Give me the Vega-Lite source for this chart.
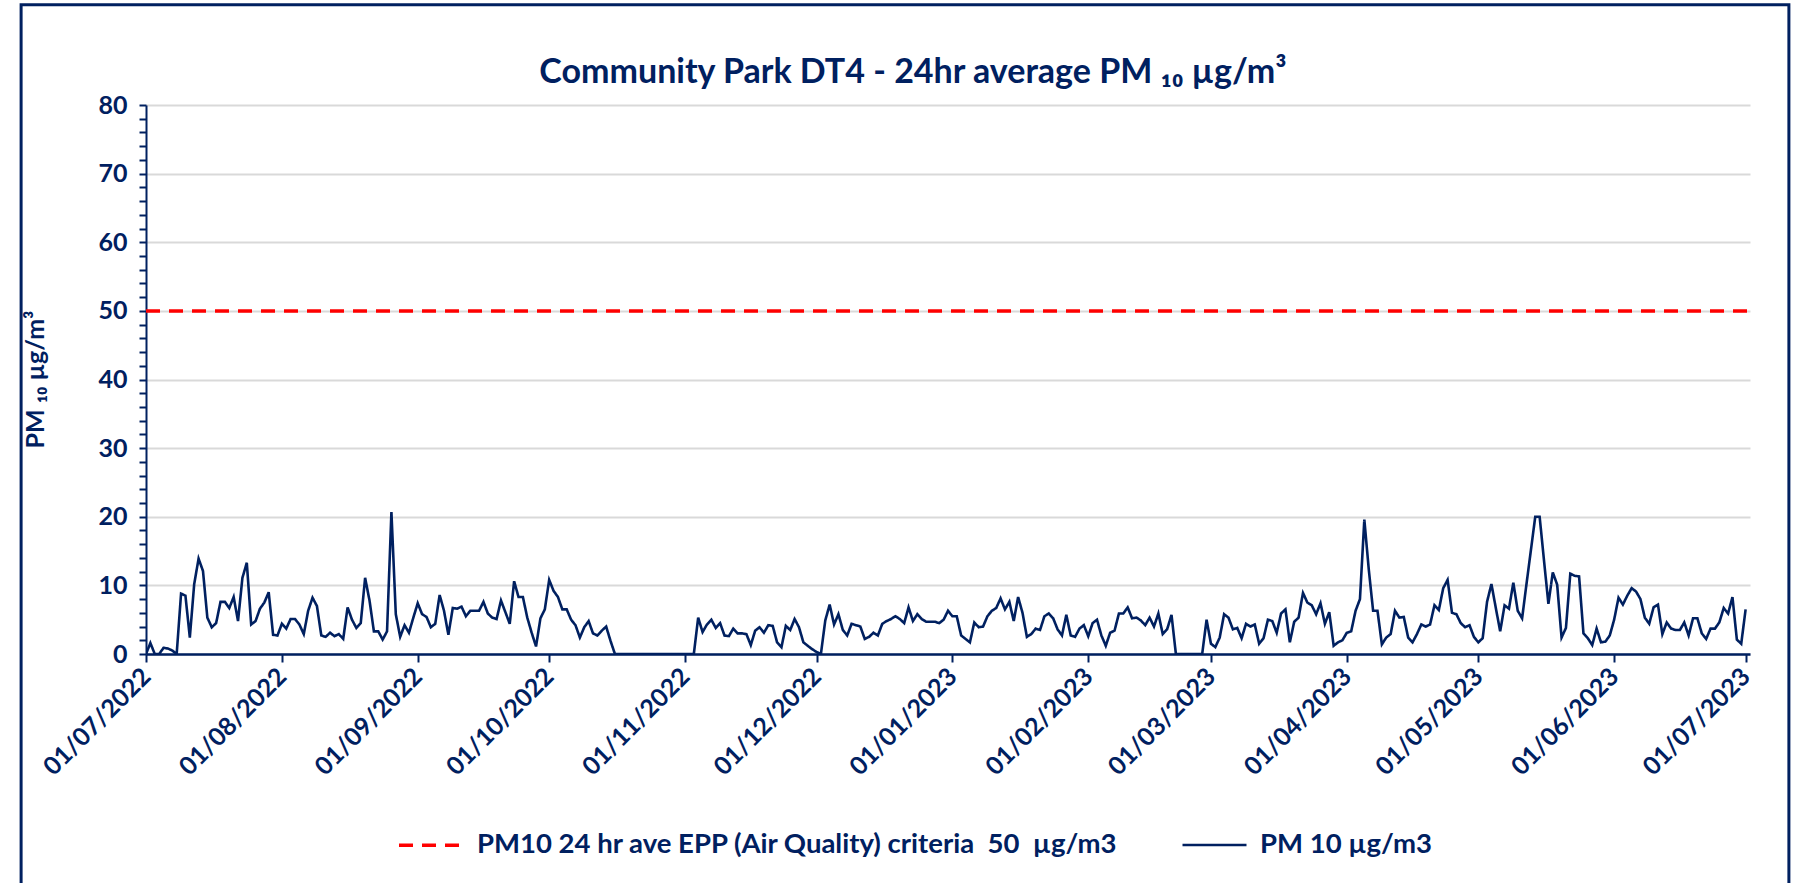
{
  "$schema": "https://vega.github.io/schema/vega-lite/v6.json",
  "width": 1604,
  "height": 549,
  "autosize": {"type": "none"},
  "padding": {"left": 146, "top": 105, "right": 56, "bottom": 229},
  "background": "white",
  "config": {"view": {"stroke": null}, "font": "Lato"},
  "title": {
    "text": "Community Park DT4 - 24hr average PM ₁₀ µg/m³",
    "font": "Lato", "fontSize": 34, "fontWeight": "bold", "color": "#002060",
    "anchor": "middle", "frame": "group", "baseline": "bottom", "offset": -121, "dx": -35
  },
  "resolve": {"axis": {"x": "independent", "y": "independent"}},
  "datasets": {
    "pm": [
      {"date":"2022-07-01","pm":50,"series":"PM10 24 hr ave EPP (Air Quality) criteria\u00a0 50\u00a0 µg/m3"},
      {"date":"2023-07-02","pm":50,"series":"PM10 24 hr ave EPP (Air Quality) criteria\u00a0 50\u00a0 µg/m3"},
      {"date":"2022-07-01","pm":0,"series":"PM 10 µg/m3"},
      {"date":"2022-07-02","pm":1.6,"series":"PM 10 µg/m3"},
      {"date":"2022-07-03","pm":0,"series":"PM 10 µg/m3"},
      {"date":"2022-07-04","pm":0,"series":"PM 10 µg/m3"},
      {"date":"2022-07-05","pm":0.9,"series":"PM 10 µg/m3"},
      {"date":"2022-07-06","pm":0.8,"series":"PM 10 µg/m3"},
      {"date":"2022-07-07","pm":0.5,"series":"PM 10 µg/m3"},
      {"date":"2022-07-08","pm":0,"series":"PM 10 µg/m3"},
      {"date":"2022-07-09","pm":8.8,"series":"PM 10 µg/m3"},
      {"date":"2022-07-10","pm":8.5,"series":"PM 10 µg/m3"},
      {"date":"2022-07-11","pm":2.4,"series":"PM 10 µg/m3"},
      {"date":"2022-07-12","pm":10.2,"series":"PM 10 µg/m3"},
      {"date":"2022-07-13","pm":13.9,"series":"PM 10 µg/m3"},
      {"date":"2022-07-14","pm":12.1,"series":"PM 10 µg/m3"},
      {"date":"2022-07-15","pm":5.3,"series":"PM 10 µg/m3"},
      {"date":"2022-07-16","pm":3.9,"series":"PM 10 µg/m3"},
      {"date":"2022-07-17","pm":4.5,"series":"PM 10 µg/m3"},
      {"date":"2022-07-18","pm":7.6,"series":"PM 10 µg/m3"},
      {"date":"2022-07-19","pm":7.6,"series":"PM 10 µg/m3"},
      {"date":"2022-07-20","pm":6.7,"series":"PM 10 µg/m3"},
      {"date":"2022-07-21","pm":8.3,"series":"PM 10 µg/m3"},
      {"date":"2022-07-22","pm":4.8,"series":"PM 10 µg/m3"},
      {"date":"2022-07-23","pm":11.1,"series":"PM 10 µg/m3"},
      {"date":"2022-07-24","pm":13.3,"series":"PM 10 µg/m3"},
      {"date":"2022-07-25","pm":4.3,"series":"PM 10 µg/m3"},
      {"date":"2022-07-26","pm":4.8,"series":"PM 10 µg/m3"},
      {"date":"2022-07-27","pm":6.6,"series":"PM 10 µg/m3"},
      {"date":"2022-07-28","pm":7.5,"series":"PM 10 µg/m3"},
      {"date":"2022-07-29","pm":9.0,"series":"PM 10 µg/m3"},
      {"date":"2022-07-30","pm":2.8,"series":"PM 10 µg/m3"},
      {"date":"2022-07-31","pm":2.7,"series":"PM 10 µg/m3"},
      {"date":"2022-08-01","pm":4.4,"series":"PM 10 µg/m3"},
      {"date":"2022-08-02","pm":3.7,"series":"PM 10 µg/m3"},
      {"date":"2022-08-03","pm":5.1,"series":"PM 10 µg/m3"},
      {"date":"2022-08-04","pm":5.1,"series":"PM 10 µg/m3"},
      {"date":"2022-08-05","pm":4.3,"series":"PM 10 µg/m3"},
      {"date":"2022-08-06","pm":2.9,"series":"PM 10 µg/m3"},
      {"date":"2022-08-07","pm":6.3,"series":"PM 10 µg/m3"},
      {"date":"2022-08-08","pm":8.2,"series":"PM 10 µg/m3"},
      {"date":"2022-08-09","pm":7.0,"series":"PM 10 µg/m3"},
      {"date":"2022-08-10","pm":2.7,"series":"PM 10 µg/m3"},
      {"date":"2022-08-11","pm":2.5,"series":"PM 10 µg/m3"},
      {"date":"2022-08-12","pm":3.1,"series":"PM 10 µg/m3"},
      {"date":"2022-08-13","pm":2.6,"series":"PM 10 µg/m3"},
      {"date":"2022-08-14","pm":2.9,"series":"PM 10 µg/m3"},
      {"date":"2022-08-15","pm":2.2,"series":"PM 10 µg/m3"},
      {"date":"2022-08-16","pm":6.8,"series":"PM 10 µg/m3"},
      {"date":"2022-08-17","pm":5.0,"series":"PM 10 µg/m3"},
      {"date":"2022-08-18","pm":3.8,"series":"PM 10 µg/m3"},
      {"date":"2022-08-19","pm":4.5,"series":"PM 10 µg/m3"},
      {"date":"2022-08-20","pm":11.1,"series":"PM 10 µg/m3"},
      {"date":"2022-08-21","pm":7.8,"series":"PM 10 µg/m3"},
      {"date":"2022-08-22","pm":3.3,"series":"PM 10 µg/m3"},
      {"date":"2022-08-23","pm":3.3,"series":"PM 10 µg/m3"},
      {"date":"2022-08-24","pm":2.1,"series":"PM 10 µg/m3"},
      {"date":"2022-08-25","pm":3.3,"series":"PM 10 µg/m3"},
      {"date":"2022-08-26","pm":20.7,"series":"PM 10 µg/m3"},
      {"date":"2022-08-27","pm":5.8,"series":"PM 10 µg/m3"},
      {"date":"2022-08-28","pm":2.5,"series":"PM 10 µg/m3"},
      {"date":"2022-08-29","pm":4.2,"series":"PM 10 µg/m3"},
      {"date":"2022-08-30","pm":3.1,"series":"PM 10 µg/m3"},
      {"date":"2022-08-31","pm":5.3,"series":"PM 10 µg/m3"},
      {"date":"2022-09-01","pm":7.4,"series":"PM 10 µg/m3"},
      {"date":"2022-09-02","pm":5.8,"series":"PM 10 µg/m3"},
      {"date":"2022-09-03","pm":5.4,"series":"PM 10 µg/m3"},
      {"date":"2022-09-04","pm":3.9,"series":"PM 10 µg/m3"},
      {"date":"2022-09-05","pm":4.4,"series":"PM 10 µg/m3"},
      {"date":"2022-09-06","pm":8.6,"series":"PM 10 µg/m3"},
      {"date":"2022-09-07","pm":6.3,"series":"PM 10 µg/m3"},
      {"date":"2022-09-08","pm":2.8,"series":"PM 10 µg/m3"},
      {"date":"2022-09-09","pm":6.7,"series":"PM 10 µg/m3"},
      {"date":"2022-09-10","pm":6.6,"series":"PM 10 µg/m3"},
      {"date":"2022-09-11","pm":6.9,"series":"PM 10 µg/m3"},
      {"date":"2022-09-12","pm":5.5,"series":"PM 10 µg/m3"},
      {"date":"2022-09-13","pm":6.3,"series":"PM 10 µg/m3"},
      {"date":"2022-09-14","pm":6.3,"series":"PM 10 µg/m3"},
      {"date":"2022-09-15","pm":6.3,"series":"PM 10 µg/m3"},
      {"date":"2022-09-16","pm":7.6,"series":"PM 10 µg/m3"},
      {"date":"2022-09-17","pm":5.9,"series":"PM 10 µg/m3"},
      {"date":"2022-09-18","pm":5.3,"series":"PM 10 µg/m3"},
      {"date":"2022-09-19","pm":5.1,"series":"PM 10 µg/m3"},
      {"date":"2022-09-20","pm":7.8,"series":"PM 10 µg/m3"},
      {"date":"2022-09-21","pm":6.1,"series":"PM 10 µg/m3"},
      {"date":"2022-09-22","pm":4.4,"series":"PM 10 µg/m3"},
      {"date":"2022-09-23","pm":10.6,"series":"PM 10 µg/m3"},
      {"date":"2022-09-24","pm":8.3,"series":"PM 10 µg/m3"},
      {"date":"2022-09-25","pm":8.3,"series":"PM 10 µg/m3"},
      {"date":"2022-09-26","pm":5.3,"series":"PM 10 µg/m3"},
      {"date":"2022-09-27","pm":3.1,"series":"PM 10 µg/m3"},
      {"date":"2022-09-28","pm":1.1,"series":"PM 10 µg/m3"},
      {"date":"2022-09-29","pm":5.2,"series":"PM 10 µg/m3"},
      {"date":"2022-09-30","pm":6.5,"series":"PM 10 µg/m3"},
      {"date":"2022-10-01","pm":10.8,"series":"PM 10 µg/m3"},
      {"date":"2022-10-02","pm":9.2,"series":"PM 10 µg/m3"},
      {"date":"2022-10-03","pm":8.3,"series":"PM 10 µg/m3"},
      {"date":"2022-10-04","pm":6.5,"series":"PM 10 µg/m3"},
      {"date":"2022-10-05","pm":6.5,"series":"PM 10 µg/m3"},
      {"date":"2022-10-06","pm":5.0,"series":"PM 10 µg/m3"},
      {"date":"2022-10-07","pm":4.2,"series":"PM 10 µg/m3"},
      {"date":"2022-10-08","pm":2.4,"series":"PM 10 µg/m3"},
      {"date":"2022-10-09","pm":3.9,"series":"PM 10 µg/m3"},
      {"date":"2022-10-10","pm":4.8,"series":"PM 10 µg/m3"},
      {"date":"2022-10-11","pm":3.0,"series":"PM 10 µg/m3"},
      {"date":"2022-10-12","pm":2.7,"series":"PM 10 µg/m3"},
      {"date":"2022-10-13","pm":3.4,"series":"PM 10 µg/m3"},
      {"date":"2022-10-14","pm":4.0,"series":"PM 10 µg/m3"},
      {"date":"2022-10-15","pm":1.9,"series":"PM 10 µg/m3"},
      {"date":"2022-10-16","pm":0,"series":"PM 10 µg/m3"},
      {"date":"2022-11-03","pm":0,"series":"PM 10 µg/m3"},
      {"date":"2022-11-04","pm":5.3,"series":"PM 10 µg/m3"},
      {"date":"2022-11-05","pm":3.2,"series":"PM 10 µg/m3"},
      {"date":"2022-11-06","pm":4.3,"series":"PM 10 µg/m3"},
      {"date":"2022-11-07","pm":5.0,"series":"PM 10 µg/m3"},
      {"date":"2022-11-08","pm":3.8,"series":"PM 10 µg/m3"},
      {"date":"2022-11-09","pm":4.5,"series":"PM 10 µg/m3"},
      {"date":"2022-11-10","pm":2.7,"series":"PM 10 µg/m3"},
      {"date":"2022-11-11","pm":2.6,"series":"PM 10 µg/m3"},
      {"date":"2022-11-12","pm":3.7,"series":"PM 10 µg/m3"},
      {"date":"2022-11-13","pm":3.0,"series":"PM 10 µg/m3"},
      {"date":"2022-11-14","pm":3.0,"series":"PM 10 µg/m3"},
      {"date":"2022-11-15","pm":2.9,"series":"PM 10 µg/m3"},
      {"date":"2022-11-16","pm":1.3,"series":"PM 10 µg/m3"},
      {"date":"2022-11-17","pm":3.4,"series":"PM 10 µg/m3"},
      {"date":"2022-11-18","pm":3.9,"series":"PM 10 µg/m3"},
      {"date":"2022-11-19","pm":3.1,"series":"PM 10 µg/m3"},
      {"date":"2022-11-20","pm":4.2,"series":"PM 10 µg/m3"},
      {"date":"2022-11-21","pm":4.1,"series":"PM 10 µg/m3"},
      {"date":"2022-11-22","pm":1.7,"series":"PM 10 µg/m3"},
      {"date":"2022-11-23","pm":1.0,"series":"PM 10 µg/m3"},
      {"date":"2022-11-24","pm":4.1,"series":"PM 10 µg/m3"},
      {"date":"2022-11-25","pm":3.5,"series":"PM 10 µg/m3"},
      {"date":"2022-11-26","pm":5.1,"series":"PM 10 µg/m3"},
      {"date":"2022-11-27","pm":3.9,"series":"PM 10 µg/m3"},
      {"date":"2022-11-28","pm":1.7,"series":"PM 10 µg/m3"},
      {"date":"2022-11-29","pm":1.2,"series":"PM 10 µg/m3"},
      {"date":"2022-11-30","pm":0.7,"series":"PM 10 µg/m3"},
      {"date":"2022-12-01","pm":0.3,"series":"PM 10 µg/m3"},
      {"date":"2022-12-02","pm":0,"series":"PM 10 µg/m3"},
      {"date":"2022-12-03","pm":4.9,"series":"PM 10 µg/m3"},
      {"date":"2022-12-04","pm":7.2,"series":"PM 10 µg/m3"},
      {"date":"2022-12-05","pm":4.3,"series":"PM 10 µg/m3"},
      {"date":"2022-12-06","pm":5.8,"series":"PM 10 µg/m3"},
      {"date":"2022-12-07","pm":3.5,"series":"PM 10 µg/m3"},
      {"date":"2022-12-08","pm":2.7,"series":"PM 10 µg/m3"},
      {"date":"2022-12-09","pm":4.4,"series":"PM 10 µg/m3"},
      {"date":"2022-12-10","pm":4.2,"series":"PM 10 µg/m3"},
      {"date":"2022-12-11","pm":4.0,"series":"PM 10 µg/m3"},
      {"date":"2022-12-12","pm":2.2,"series":"PM 10 µg/m3"},
      {"date":"2022-12-13","pm":2.5,"series":"PM 10 µg/m3"},
      {"date":"2022-12-14","pm":3.1,"series":"PM 10 µg/m3"},
      {"date":"2022-12-15","pm":2.7,"series":"PM 10 µg/m3"},
      {"date":"2022-12-16","pm":4.4,"series":"PM 10 µg/m3"},
      {"date":"2022-12-17","pm":4.8,"series":"PM 10 µg/m3"},
      {"date":"2022-12-18","pm":5.1,"series":"PM 10 µg/m3"},
      {"date":"2022-12-19","pm":5.5,"series":"PM 10 µg/m3"},
      {"date":"2022-12-20","pm":5.1,"series":"PM 10 µg/m3"},
      {"date":"2022-12-21","pm":4.5,"series":"PM 10 µg/m3"},
      {"date":"2022-12-22","pm":6.8,"series":"PM 10 µg/m3"},
      {"date":"2022-12-23","pm":4.8,"series":"PM 10 µg/m3"},
      {"date":"2022-12-24","pm":5.8,"series":"PM 10 µg/m3"},
      {"date":"2022-12-25","pm":5.1,"series":"PM 10 µg/m3"},
      {"date":"2022-12-26","pm":4.7,"series":"PM 10 µg/m3"},
      {"date":"2022-12-27","pm":4.7,"series":"PM 10 µg/m3"},
      {"date":"2022-12-28","pm":4.7,"series":"PM 10 µg/m3"},
      {"date":"2022-12-29","pm":4.5,"series":"PM 10 µg/m3"},
      {"date":"2022-12-30","pm":5.0,"series":"PM 10 µg/m3"},
      {"date":"2022-12-31","pm":6.3,"series":"PM 10 µg/m3"},
      {"date":"2023-01-01","pm":5.5,"series":"PM 10 µg/m3"},
      {"date":"2023-01-02","pm":5.5,"series":"PM 10 µg/m3"},
      {"date":"2023-01-03","pm":2.7,"series":"PM 10 µg/m3"},
      {"date":"2023-01-04","pm":2.2,"series":"PM 10 µg/m3"},
      {"date":"2023-01-05","pm":1.7,"series":"PM 10 µg/m3"},
      {"date":"2023-01-06","pm":4.6,"series":"PM 10 µg/m3"},
      {"date":"2023-01-07","pm":3.9,"series":"PM 10 µg/m3"},
      {"date":"2023-01-08","pm":4.0,"series":"PM 10 µg/m3"},
      {"date":"2023-01-09","pm":5.5,"series":"PM 10 µg/m3"},
      {"date":"2023-01-10","pm":6.3,"series":"PM 10 µg/m3"},
      {"date":"2023-01-11","pm":6.7,"series":"PM 10 µg/m3"},
      {"date":"2023-01-12","pm":8.1,"series":"PM 10 µg/m3"},
      {"date":"2023-01-13","pm":6.5,"series":"PM 10 µg/m3"},
      {"date":"2023-01-14","pm":7.6,"series":"PM 10 µg/m3"},
      {"date":"2023-01-15","pm":4.8,"series":"PM 10 µg/m3"},
      {"date":"2023-01-16","pm":8.3,"series":"PM 10 µg/m3"},
      {"date":"2023-01-17","pm":6.0,"series":"PM 10 µg/m3"},
      {"date":"2023-01-18","pm":2.5,"series":"PM 10 µg/m3"},
      {"date":"2023-01-19","pm":2.9,"series":"PM 10 µg/m3"},
      {"date":"2023-01-20","pm":3.7,"series":"PM 10 µg/m3"},
      {"date":"2023-01-21","pm":3.5,"series":"PM 10 µg/m3"},
      {"date":"2023-01-22","pm":5.5,"series":"PM 10 µg/m3"},
      {"date":"2023-01-23","pm":5.9,"series":"PM 10 µg/m3"},
      {"date":"2023-01-24","pm":5.2,"series":"PM 10 µg/m3"},
      {"date":"2023-01-25","pm":3.6,"series":"PM 10 µg/m3"},
      {"date":"2023-01-26","pm":2.7,"series":"PM 10 µg/m3"},
      {"date":"2023-01-27","pm":5.7,"series":"PM 10 µg/m3"},
      {"date":"2023-01-28","pm":2.7,"series":"PM 10 µg/m3"},
      {"date":"2023-01-29","pm":2.5,"series":"PM 10 µg/m3"},
      {"date":"2023-01-30","pm":3.7,"series":"PM 10 µg/m3"},
      {"date":"2023-01-31","pm":4.2,"series":"PM 10 µg/m3"},
      {"date":"2023-02-01","pm":2.6,"series":"PM 10 µg/m3"},
      {"date":"2023-02-02","pm":4.5,"series":"PM 10 µg/m3"},
      {"date":"2023-02-03","pm":5.0,"series":"PM 10 µg/m3"},
      {"date":"2023-02-04","pm":2.7,"series":"PM 10 µg/m3"},
      {"date":"2023-02-05","pm":1.2,"series":"PM 10 µg/m3"},
      {"date":"2023-02-06","pm":3.1,"series":"PM 10 µg/m3"},
      {"date":"2023-02-07","pm":3.4,"series":"PM 10 µg/m3"},
      {"date":"2023-02-08","pm":5.9,"series":"PM 10 µg/m3"},
      {"date":"2023-02-09","pm":5.9,"series":"PM 10 µg/m3"},
      {"date":"2023-02-10","pm":6.8,"series":"PM 10 µg/m3"},
      {"date":"2023-02-11","pm":5.2,"series":"PM 10 µg/m3"},
      {"date":"2023-02-12","pm":5.3,"series":"PM 10 µg/m3"},
      {"date":"2023-02-13","pm":4.9,"series":"PM 10 µg/m3"},
      {"date":"2023-02-14","pm":4.2,"series":"PM 10 µg/m3"},
      {"date":"2023-02-15","pm":5.3,"series":"PM 10 µg/m3"},
      {"date":"2023-02-16","pm":4.0,"series":"PM 10 µg/m3"},
      {"date":"2023-02-17","pm":5.9,"series":"PM 10 µg/m3"},
      {"date":"2023-02-18","pm":2.9,"series":"PM 10 µg/m3"},
      {"date":"2023-02-19","pm":3.6,"series":"PM 10 µg/m3"},
      {"date":"2023-02-20","pm":5.7,"series":"PM 10 µg/m3"},
      {"date":"2023-02-21","pm":0,"series":"PM 10 µg/m3"},
      {"date":"2023-02-27","pm":0,"series":"PM 10 µg/m3"},
      {"date":"2023-02-28","pm":5.0,"series":"PM 10 µg/m3"},
      {"date":"2023-03-01","pm":1.5,"series":"PM 10 µg/m3"},
      {"date":"2023-03-02","pm":1.0,"series":"PM 10 µg/m3"},
      {"date":"2023-03-03","pm":2.4,"series":"PM 10 µg/m3"},
      {"date":"2023-03-04","pm":5.8,"series":"PM 10 µg/m3"},
      {"date":"2023-03-05","pm":5.3,"series":"PM 10 µg/m3"},
      {"date":"2023-03-06","pm":3.6,"series":"PM 10 µg/m3"},
      {"date":"2023-03-07","pm":3.8,"series":"PM 10 µg/m3"},
      {"date":"2023-03-08","pm":2.3,"series":"PM 10 µg/m3"},
      {"date":"2023-03-09","pm":4.4,"series":"PM 10 µg/m3"},
      {"date":"2023-03-10","pm":4.0,"series":"PM 10 µg/m3"},
      {"date":"2023-03-11","pm":4.3,"series":"PM 10 µg/m3"},
      {"date":"2023-03-12","pm":1.5,"series":"PM 10 µg/m3"},
      {"date":"2023-03-13","pm":2.3,"series":"PM 10 µg/m3"},
      {"date":"2023-03-14","pm":5.0,"series":"PM 10 µg/m3"},
      {"date":"2023-03-15","pm":4.8,"series":"PM 10 µg/m3"},
      {"date":"2023-03-16","pm":3.1,"series":"PM 10 µg/m3"},
      {"date":"2023-03-17","pm":5.9,"series":"PM 10 µg/m3"},
      {"date":"2023-03-18","pm":6.5,"series":"PM 10 µg/m3"},
      {"date":"2023-03-19","pm":1.7,"series":"PM 10 µg/m3"},
      {"date":"2023-03-20","pm":4.7,"series":"PM 10 µg/m3"},
      {"date":"2023-03-21","pm":5.3,"series":"PM 10 µg/m3"},
      {"date":"2023-03-22","pm":8.9,"series":"PM 10 µg/m3"},
      {"date":"2023-03-23","pm":7.5,"series":"PM 10 µg/m3"},
      {"date":"2023-03-24","pm":7.1,"series":"PM 10 µg/m3"},
      {"date":"2023-03-25","pm":5.8,"series":"PM 10 µg/m3"},
      {"date":"2023-03-26","pm":7.4,"series":"PM 10 µg/m3"},
      {"date":"2023-03-27","pm":4.4,"series":"PM 10 µg/m3"},
      {"date":"2023-03-28","pm":6.1,"series":"PM 10 µg/m3"},
      {"date":"2023-03-29","pm":1.2,"series":"PM 10 µg/m3"},
      {"date":"2023-03-30","pm":1.7,"series":"PM 10 µg/m3"},
      {"date":"2023-03-31","pm":2.0,"series":"PM 10 µg/m3"},
      {"date":"2023-04-01","pm":3.1,"series":"PM 10 µg/m3"},
      {"date":"2023-04-02","pm":3.3,"series":"PM 10 µg/m3"},
      {"date":"2023-04-03","pm":6.3,"series":"PM 10 µg/m3"},
      {"date":"2023-04-04","pm":8.0,"series":"PM 10 µg/m3"},
      {"date":"2023-04-05","pm":19.6,"series":"PM 10 µg/m3"},
      {"date":"2023-04-06","pm":12.4,"series":"PM 10 µg/m3"},
      {"date":"2023-04-07","pm":6.3,"series":"PM 10 µg/m3"},
      {"date":"2023-04-08","pm":6.3,"series":"PM 10 µg/m3"},
      {"date":"2023-04-09","pm":1.4,"series":"PM 10 µg/m3"},
      {"date":"2023-04-10","pm":2.4,"series":"PM 10 µg/m3"},
      {"date":"2023-04-11","pm":2.9,"series":"PM 10 µg/m3"},
      {"date":"2023-04-12","pm":6.3,"series":"PM 10 µg/m3"},
      {"date":"2023-04-13","pm":5.3,"series":"PM 10 µg/m3"},
      {"date":"2023-04-14","pm":5.4,"series":"PM 10 µg/m3"},
      {"date":"2023-04-15","pm":2.4,"series":"PM 10 µg/m3"},
      {"date":"2023-04-16","pm":1.7,"series":"PM 10 µg/m3"},
      {"date":"2023-04-17","pm":2.9,"series":"PM 10 µg/m3"},
      {"date":"2023-04-18","pm":4.3,"series":"PM 10 µg/m3"},
      {"date":"2023-04-19","pm":4.0,"series":"PM 10 µg/m3"},
      {"date":"2023-04-20","pm":4.3,"series":"PM 10 µg/m3"},
      {"date":"2023-04-21","pm":7.1,"series":"PM 10 µg/m3"},
      {"date":"2023-04-22","pm":6.4,"series":"PM 10 µg/m3"},
      {"date":"2023-04-23","pm":9.6,"series":"PM 10 µg/m3"},
      {"date":"2023-04-24","pm":10.8,"series":"PM 10 µg/m3"},
      {"date":"2023-04-25","pm":6.0,"series":"PM 10 µg/m3"},
      {"date":"2023-04-26","pm":5.8,"series":"PM 10 µg/m3"},
      {"date":"2023-04-27","pm":4.5,"series":"PM 10 µg/m3"},
      {"date":"2023-04-28","pm":3.9,"series":"PM 10 µg/m3"},
      {"date":"2023-04-29","pm":4.2,"series":"PM 10 µg/m3"},
      {"date":"2023-04-30","pm":2.5,"series":"PM 10 µg/m3"},
      {"date":"2023-05-01","pm":1.7,"series":"PM 10 µg/m3"},
      {"date":"2023-05-02","pm":2.3,"series":"PM 10 µg/m3"},
      {"date":"2023-05-03","pm":7.6,"series":"PM 10 µg/m3"},
      {"date":"2023-05-04","pm":10.2,"series":"PM 10 µg/m3"},
      {"date":"2023-05-05","pm":6.7,"series":"PM 10 µg/m3"},
      {"date":"2023-05-06","pm":3.3,"series":"PM 10 µg/m3"},
      {"date":"2023-05-07","pm":7.1,"series":"PM 10 µg/m3"},
      {"date":"2023-05-08","pm":6.6,"series":"PM 10 µg/m3"},
      {"date":"2023-05-09","pm":10.4,"series":"PM 10 µg/m3"},
      {"date":"2023-05-10","pm":6.3,"series":"PM 10 µg/m3"},
      {"date":"2023-05-11","pm":5.2,"series":"PM 10 µg/m3"},
      {"date":"2023-05-12","pm":10.2,"series":"PM 10 µg/m3"},
      {"date":"2023-05-13","pm":15.1,"series":"PM 10 µg/m3"},
      {"date":"2023-05-14","pm":20.0,"series":"PM 10 µg/m3"},
      {"date":"2023-05-15","pm":20.0,"series":"PM 10 µg/m3"},
      {"date":"2023-05-16","pm":13.6,"series":"PM 10 µg/m3"},
      {"date":"2023-05-17","pm":7.3,"series":"PM 10 µg/m3"},
      {"date":"2023-05-18","pm":11.9,"series":"PM 10 µg/m3"},
      {"date":"2023-05-19","pm":10.1,"series":"PM 10 µg/m3"},
      {"date":"2023-05-20","pm":2.4,"series":"PM 10 µg/m3"},
      {"date":"2023-05-21","pm":3.8,"series":"PM 10 µg/m3"},
      {"date":"2023-05-22","pm":11.7,"series":"PM 10 µg/m3"},
      {"date":"2023-05-23","pm":11.4,"series":"PM 10 µg/m3"},
      {"date":"2023-05-24","pm":11.3,"series":"PM 10 µg/m3"},
      {"date":"2023-05-25","pm":3.0,"series":"PM 10 µg/m3"},
      {"date":"2023-05-26","pm":2.3,"series":"PM 10 µg/m3"},
      {"date":"2023-05-27","pm":1.3,"series":"PM 10 µg/m3"},
      {"date":"2023-05-28","pm":3.7,"series":"PM 10 µg/m3"},
      {"date":"2023-05-29","pm":1.7,"series":"PM 10 µg/m3"},
      {"date":"2023-05-30","pm":1.8,"series":"PM 10 µg/m3"},
      {"date":"2023-05-31","pm":2.7,"series":"PM 10 µg/m3"},
      {"date":"2023-06-01","pm":5.0,"series":"PM 10 µg/m3"},
      {"date":"2023-06-02","pm":8.2,"series":"PM 10 µg/m3"},
      {"date":"2023-06-03","pm":7.2,"series":"PM 10 µg/m3"},
      {"date":"2023-06-04","pm":8.5,"series":"PM 10 µg/m3"},
      {"date":"2023-06-05","pm":9.6,"series":"PM 10 µg/m3"},
      {"date":"2023-06-06","pm":9.1,"series":"PM 10 µg/m3"},
      {"date":"2023-06-07","pm":8.0,"series":"PM 10 µg/m3"},
      {"date":"2023-06-08","pm":5.3,"series":"PM 10 µg/m3"},
      {"date":"2023-06-09","pm":4.4,"series":"PM 10 µg/m3"},
      {"date":"2023-06-10","pm":6.8,"series":"PM 10 µg/m3"},
      {"date":"2023-06-11","pm":7.2,"series":"PM 10 µg/m3"},
      {"date":"2023-06-12","pm":2.9,"series":"PM 10 µg/m3"},
      {"date":"2023-06-13","pm":4.6,"series":"PM 10 µg/m3"},
      {"date":"2023-06-14","pm":3.7,"series":"PM 10 µg/m3"},
      {"date":"2023-06-15","pm":3.5,"series":"PM 10 µg/m3"},
      {"date":"2023-06-16","pm":3.5,"series":"PM 10 µg/m3"},
      {"date":"2023-06-17","pm":4.6,"series":"PM 10 µg/m3"},
      {"date":"2023-06-18","pm":2.7,"series":"PM 10 µg/m3"},
      {"date":"2023-06-19","pm":5.2,"series":"PM 10 µg/m3"},
      {"date":"2023-06-20","pm":5.2,"series":"PM 10 µg/m3"},
      {"date":"2023-06-21","pm":3.0,"series":"PM 10 µg/m3"},
      {"date":"2023-06-22","pm":2.2,"series":"PM 10 µg/m3"},
      {"date":"2023-06-23","pm":3.7,"series":"PM 10 µg/m3"},
      {"date":"2023-06-24","pm":3.7,"series":"PM 10 µg/m3"},
      {"date":"2023-06-25","pm":4.6,"series":"PM 10 µg/m3"},
      {"date":"2023-06-26","pm":6.7,"series":"PM 10 µg/m3"},
      {"date":"2023-06-27","pm":5.9,"series":"PM 10 µg/m3"},
      {"date":"2023-06-28","pm":8.3,"series":"PM 10 µg/m3"},
      {"date":"2023-06-29","pm":2.1,"series":"PM 10 µg/m3"},
      {"date":"2023-06-30","pm":1.5,"series":"PM 10 µg/m3"},
      {"date":"2023-07-01","pm":6.5,"series":"PM 10 µg/m3"}
    ]
  },
  "layer": [
    {
      "data": {"name": "pm"},
      "mark": {"type": "line", "strokeJoin": "miter", "clip": true},
      "encoding": {
        "x": {
          "field": "date", "type": "temporal",
          "scale": {"type": "utc", "nice": false, "domain": [{"year": 2022, "month": 7, "date": 1, "utc": true}, {"year": 2023, "month": 7, "date": 2, "utc": true}]},
          "axis": {
            "title": null, "orient": "bottom",
            "values": [
              {"year": 2022, "month": 7, "date": 1, "utc": true},
              {"year": 2022, "month": 8, "date": 1, "utc": true},
              {"year": 2022, "month": 9, "date": 1, "utc": true},
              {"year": 2022, "month": 10, "date": 1, "utc": true},
              {"year": 2022, "month": 11, "date": 1, "utc": true},
              {"year": 2022, "month": 12, "date": 1, "utc": true},
              {"year": 2023, "month": 1, "date": 1, "utc": true},
              {"year": 2023, "month": 2, "date": 1, "utc": true},
              {"year": 2023, "month": 3, "date": 1, "utc": true},
              {"year": 2023, "month": 4, "date": 1, "utc": true},
              {"year": 2023, "month": 5, "date": 1, "utc": true},
              {"year": 2023, "month": 6, "date": 1, "utc": true},
              {"year": 2023, "month": 7, "date": 1, "utc": true}
            ],
            "format": "%d/%m/%Y",
            "grid": false,
            "labelAngle": -45, "labelAlign": "right", "labelBaseline": "middle",
            "labelFont": "Lato", "labelFontSize": 25, "labelFontWeight": "bold", "labelColor": "#002060",
            "labelPadding": 10, "labelOverlap": false, "labelFlush": false, "labelBound": false,
            "domainColor": "#002060", "domainWidth": 2.5,
            "tickColor": "#002060", "tickWidth": 2, "tickSize": 8
          }
        },
        "y": {
          "field": "pm", "type": "quantitative",
          "scale": {"domain": [0, 80], "nice": false},
          "axis": {
            "title": "PM ₁₀ µg/m³", "orient": "left",
            "values": [0,2,4,6,8,10,12,14,16,18,20,22,24,26,28,30,32,34,36,38,40,42,44,46,48,50,52,54,56,58,60,62,64,66,68,70,72,74,76,78,80],
            "labelExpr": "datum.value % 10 === 0 ? datum.label : ''",
            "grid": true,
            "gridOpacity": {"condition": {"test": "datum.value % 10 === 0", "value": 1}, "value": 0},
            "gridColor": "#D9D9D9", "gridWidth": 2,
            "labelFont": "Lato", "labelFontSize": 25, "labelFontWeight": "bold", "labelColor": "#002060",
            "labelPadding": 12, "labelOverlap": false, "labelBound": false,
            "domainColor": "#002060", "domainWidth": 2,
            "tickColor": "#002060", "tickWidth": 2, "tickSize": 7,
            "titleFont": "Lato", "titleFontSize": 25, "titleFontWeight": "bold", "titleColor": "#002060",
            "titleX": -111, "titleY": 274, "titleAngle": -90, "titleAlign": "center", "titleBaseline": "middle"
          }
        },
        "color": {
          "field": "series", "type": "nominal",
          "scale": {"domain": ["PM10 24 hr ave EPP (Air Quality) criteria\u00a0 50\u00a0 µg/m3", "PM 10 µg/m3"], "range": ["#FF0000", "#002060"]},
          "legend": {
            "title": null, "orient": "none", "direction": "horizontal",
            "legendX": 251, "legendY": 706,
            "symbolType": "stroke", "symbolSize": 4096, "symbolStrokeWidth": 3,
            "labelFont": "Lato", "labelFontSize": 27.5, "labelFontWeight": "bold", "labelColor": "#002060",
            "labelOffset": 12, "columnPadding": 58, "labelLimit": 1000
          }
        },
        "strokeDash": {
          "field": "series", "type": "nominal",
          "scale": {"domain": ["PM10 24 hr ave EPP (Air Quality) criteria\u00a0 50\u00a0 µg/m3", "PM 10 µg/m3"], "range": [[14, 9], [1, 0]]}
        },
        "strokeWidth": {
          "field": "series", "type": "nominal",
          "scale": {"domain": ["PM10 24 hr ave EPP (Air Quality) criteria\u00a0 50\u00a0 µg/m3", "PM 10 µg/m3"], "range": [3.5, 2.6]}
        }
      }
    },
    {
      "data": {"values": [{}]},
      "mark": {"type": "rect", "fillOpacity": 0, "stroke": "#002060", "strokeWidth": 3, "clip": false},
      "encoding": {
        "x": {"datum": {"year": 2022, "month": 6, "date": 2, "hours": 12, "utc": true}, "type": "temporal", "axis": null},
        "x2": {"datum": {"year": 2023, "month": 7, "date": 10, "hours": 21, "utc": true}},
        "y": {"datum": 94.6, "type": "quantitative", "axis": null},
        "y2": {"datum": -36}
      }
    }
  ]
}
